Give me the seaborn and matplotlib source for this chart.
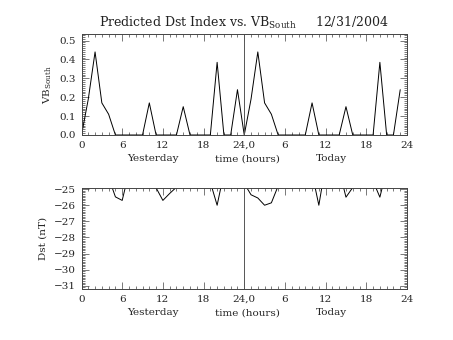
import matplotlib
matplotlib.use("Agg")
import matplotlib.pyplot as plt
from matplotlib.ticker import MultipleLocator, FixedLocator
import seaborn as sns
import numpy as np
import pandas as pd

# ---- data (hours 0..47: yesterday 0-23, today 24-47) ----
hours = list(range(48))
vb_south = [0.00, 0.19, 0.44, 0.17, 0.11, 0.00, 0.00, 0.00, 0.00, 0.00, 0.17, 0.00,
            0.00, 0.00, 0.00, 0.15, 0.00, 0.00, 0.00, 0.00, 0.385, 0.00, 0.00, 0.24,
            0.00, 0.19, 0.44, 0.17, 0.11, 0.00, 0.00, 0.00, 0.00, 0.00, 0.17, 0.00,
            0.00, 0.00, 0.00, 0.15, 0.00, 0.00, 0.00, 0.00, 0.385, 0.00, 0.00, 0.24]
dst = [-24.5, -24.5, -24.5, -24.5, -24.28, -25.48, -25.70, -23.95, -24.5, -24.5, -24.5, -24.92,
       -25.70, -25.27, -24.88, -24.5, -24.5, -24.5, -24.5, -24.57, -26.00, -24.00, -24.5, -24.5,
       -24.65, -25.35, -25.55, -26.00, -25.85, -24.80, -24.5, -24.5, -24.5, -24.5, -24.00, -26.00,
       -23.50, -24.5, -23.80, -25.50, -24.90, -24.5, -24.5, -24.50, -25.50, -23.80, -24.5, -24.5]
xtick_pos = [0, 6, 12, 18, 24, 30, 36, 42, 48]
xtick_labels = ["0", "6", "12", "18", "24,0", "6", "12", "18", "24"]
vb_ticks = [0.0, 0.1, 0.2, 0.3, 0.4, 0.5]
dst_ticks = [-25, -26, -27, -28, -29, -30, -31]

df = pd.DataFrame({"hour": hours, "vb": vb_south, "dst": dst})

sns.set_style("ticks")
plt.rcParams["font.family"] = ["DejaVu Serif"]
plt.rcParams["mathtext.fontset"] = "dejavuserif"

W, H = 453, 340
fig = plt.figure(figsize=(W / 100, H / 100), dpi=100)
fig.patch.set_facecolor("white")

ax1 = fig.add_axes([81.5 / W, 1 - 135 / H, (407 - 81.5) / W, (135 - 34) / H])
ax2 = fig.add_axes([81.5 / W, 1 - 289 / H, (407 - 81.5) / W, (289 - 188) / H])

sns.lineplot(data=df, x="hour", y="vb", ax=ax1, color="black", lw=0.7)
sns.lineplot(data=df, x="hour", y="dst", ax=ax2, color="black", lw=0.7)

fs = 7.5
for ax in (ax1, ax2):
    ax.set_xlim(0, 48)
    ax.axvline(24, color="#555555", lw=0.7)
    ax.xaxis.set_major_locator(FixedLocator(xtick_pos))
    ax.set_xticklabels(xtick_labels, fontsize=fs)
    ax.xaxis.set_minor_locator(MultipleLocator(1))
    ax.tick_params(axis="both", which="both", direction="in", top=True, right=True,
                   color="#444444", width=0.5, labelsize=fs, pad=4)
    ax.tick_params(axis="both", which="major", length=5)
    ax.tick_params(axis="both", which="minor", length=2.5)
    for s in ax.spines.values():
        s.set_color("#444444")
        s.set_linewidth(0.7)
    ax.set_xlabel("")
    ax.text(10.5, -0.19, "Yesterday", transform=ax.get_xaxis_transform(), ha="center",
            va="top", fontsize=fs)
    ax.text(24.5, -0.19, "time (hours)", transform=ax.get_xaxis_transform(), ha="center",
            va="top", fontsize=fs)
    ax.text(36.8, -0.19, "Today", transform=ax.get_xaxis_transform(), ha="center",
            va="top", fontsize=fs)

ax1.set_ylim(0, 0.535)
ax1.yaxis.set_major_locator(FixedLocator(vb_ticks))
ax1.set_yticklabels([f"{v:.1f}" for v in vb_ticks])
ax1.yaxis.set_minor_locator(MultipleLocator(0.01))
ax1.set_ylabel(r"VB$_{\rm South}$", fontsize=fs)
ax1.yaxis.set_label_coords(-0.085, 0.5)

ax2.set_ylim(-31.2, -24.93)
ax2.yaxis.set_major_locator(FixedLocator(dst_ticks))
ax2.set_yticklabels([f"\u2212{abs(v)}" for v in dst_ticks])
ax2.yaxis.set_minor_locator(MultipleLocator(0.1))
ax2.set_ylabel("Dst (nT)", fontsize=fs)
ax2.yaxis.set_label_coords(-0.105, 0.5)

fig.text(244 / W, 1 - 27 / H, r"Predicted Dst Index vs. VB$_{\rm South}$     12/31/2004",
         ha="center", va="baseline", fontsize=9, color="#222222")

fig.savefig("out.png", dpi=100, facecolor="white")
